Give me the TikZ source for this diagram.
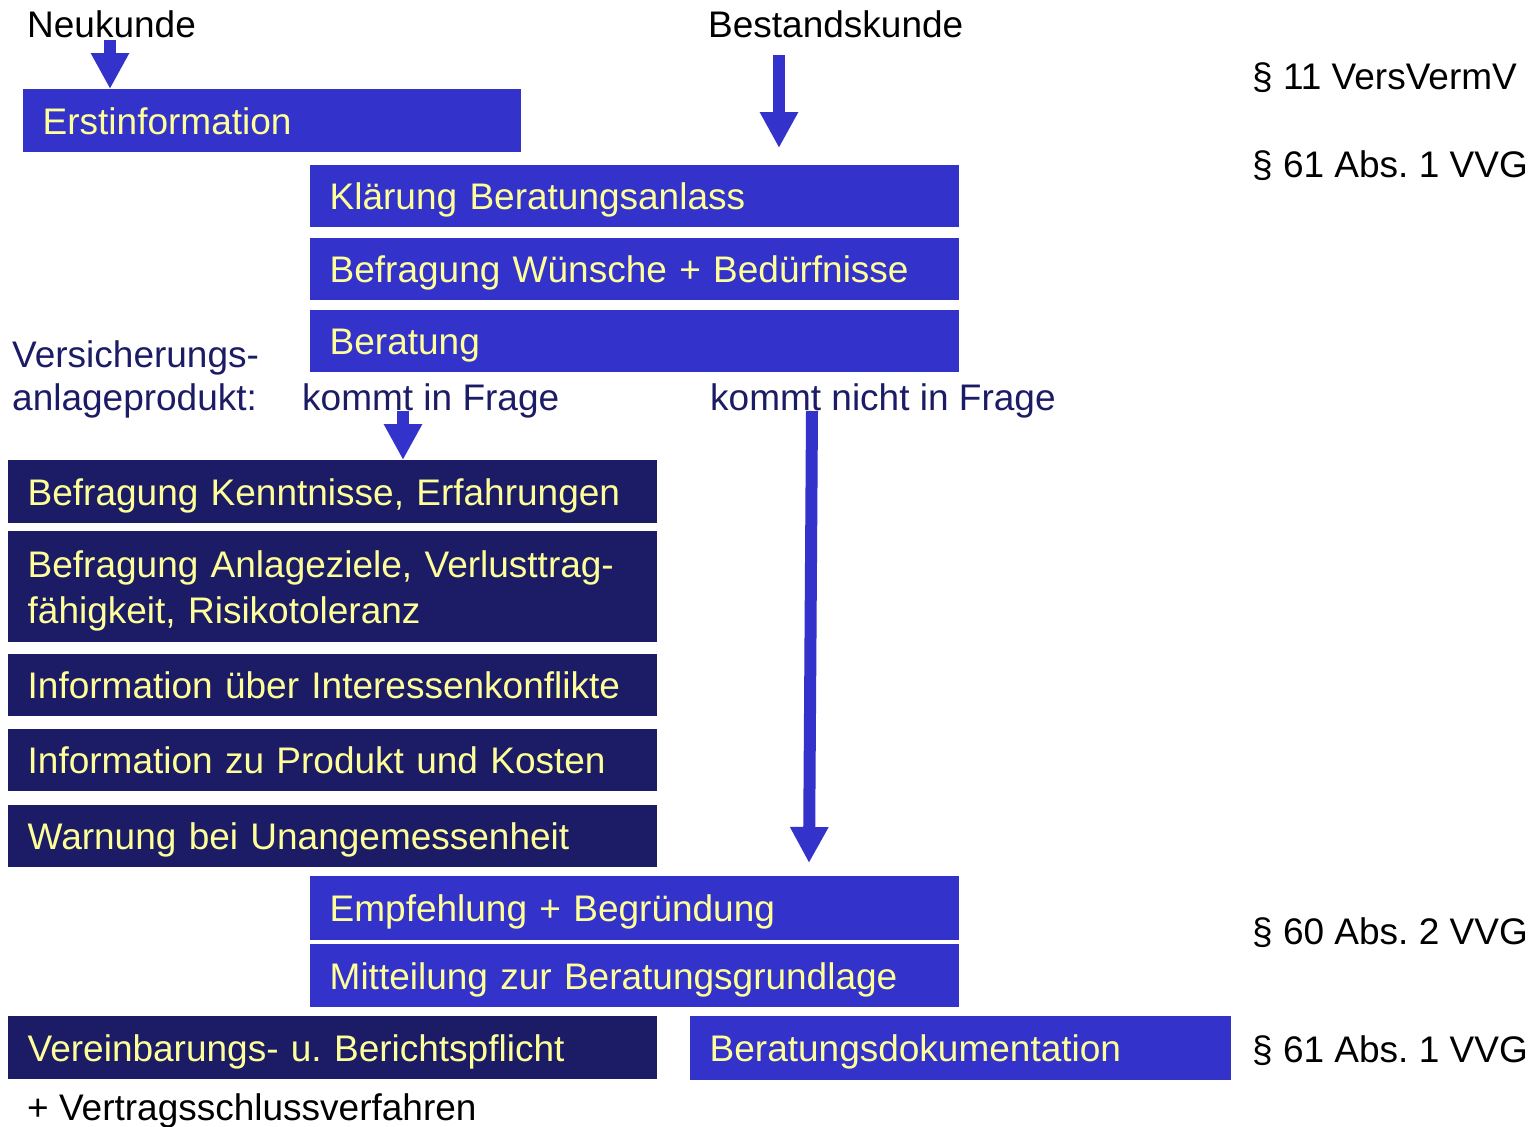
\documentclass[tikz,border=0pt]{standalone}
\usepackage{fontspec}
\setmainfont{Liberation Sans}
\usetikzlibrary{arrows.meta}
\definecolor{boxblue}{HTML}{3333CC}
\definecolor{boxnavy}{HTML}{1C1C66}
\definecolor{boxtext}{HTML}{FFFF99}
\frenchspacing
\begin{document}
\begin{tikzpicture}[x=1pt,y=-1pt,
  every node/.style={font=\fontsize{37}{46}\selectfont\frenchspacing},
  basebox/.style={rectangle, anchor=north west, inner xsep=19.5pt, inner ysep=0pt,
    text=boxtext, align=left, text height=27.5pt, text depth=0pt},
  bluebox/.style={basebox, fill=boxblue},
  navybox/.style={basebox, fill=boxnavy},
  lbl/.style={anchor=base west, inner sep=0pt, text=black},
  navylbl/.style={lbl, text=boxnavy},
  blockarrow/.style={draw=boxblue, line width=12pt, -{Triangle[width=36pt,length=36pt]}}
]
\useasboundingbox (0,0) rectangle (1540,1127);

% boxes
\node[bluebox, text width=459pt, minimum height=63pt] (erst) at (23,89) {Erstinformation};
\node[bluebox, text width=610pt, minimum height=62pt] (klaer) at (310,165) {Klärung Beratungsanlass};
\node[bluebox, text width=610pt, minimum height=62pt] (wuensche) at (310,238) {Befragung Wünsche + Bedürfnisse};
\node[bluebox, text width=610pt, minimum height=62pt] (beratung) at (310,310) {Beratung};
\node[navybox, text width=610pt, minimum height=63pt] (kenntnisse) at (8,460) {Befragung Kenntnisse, Erfahrungen};
\node[navybox, text width=610pt, minimum height=111pt, text depth=46pt] (anlage) at (8,531) {Befragung Anlageziele, Verlusttrag-\\fähigkeit, Risikotoleranz};
\node[navybox, text width=610pt, minimum height=62pt] (konflikte) at (8,654) {Information über Interessenkonflikte};
\node[navybox, text width=610pt, minimum height=62pt] (kosten) at (8,729) {Information zu Produkt und Kosten};
\node[navybox, text width=610pt, minimum height=62pt] (warnung) at (8,805) {Warnung bei Unangemessenheit};
\node[bluebox, text width=610pt, minimum height=64pt] (empf) at (310,876) {Empfehlung + Begründung};
\node[bluebox, text width=610pt, minimum height=63pt] (mitteil) at (310,944) {Mitteilung zur Beratungsgrundlage};
\node[navybox, text width=610pt, minimum height=63pt] (verein) at (8,1016) {Vereinbarungs- u. Berichtspflicht};
\node[bluebox, text width=502pt, minimum height=64pt] (doku) at (690,1016) {Beratungsdokumentation};

% labels
\node[lbl] (neu) at (27,37) {Neukunde};
\node[lbl] (bestand) at (708,37) {Bestandskunde};
\node[lbl] (p11) at (1252,89) {§ 11 VersVermV};
\node[lbl] (p61a) at (1252,177) {§ 61 Abs. 1 VVG};
\node[navylbl] (vers1) at (12,367) {Versicherungs-};
\node[navylbl] (vers2) at (12,410) {anlageprodukt:};
\node[navylbl] (ja) at (302,410) {kommt in Frage};
\node[navylbl] (nein) at (710,410) {kommt nicht in Frage};
\node[lbl] (p60) at (1252,944) {§ 60 Abs. 2 VVG};
\node[lbl] (p61b) at (1252,1062) {§ 61 Abs. 1 VVG};
\node[lbl] (vertrag) at (27,1120) {+ Vertragsschlussverfahren};

% arrow ends
\coordinate (a1s) at (110,40);
\coordinate (a2s) at (779,55);
\coordinate (a2e) at (779,148);
\coordinate (a3s) at (403,411);
\coordinate (a4s) at (812,411);
\coordinate (a4e) at (809,863);

\draw[blockarrow] (a1s) -- (a1s |- erst.north);
\draw[blockarrow] (a2s) -- (a2e);
\draw[blockarrow] (a3s) -- (a3s |- kenntnisse.north);
\draw[blockarrow] (a4s) -- (a4e);
\end{tikzpicture}
\end{document}
